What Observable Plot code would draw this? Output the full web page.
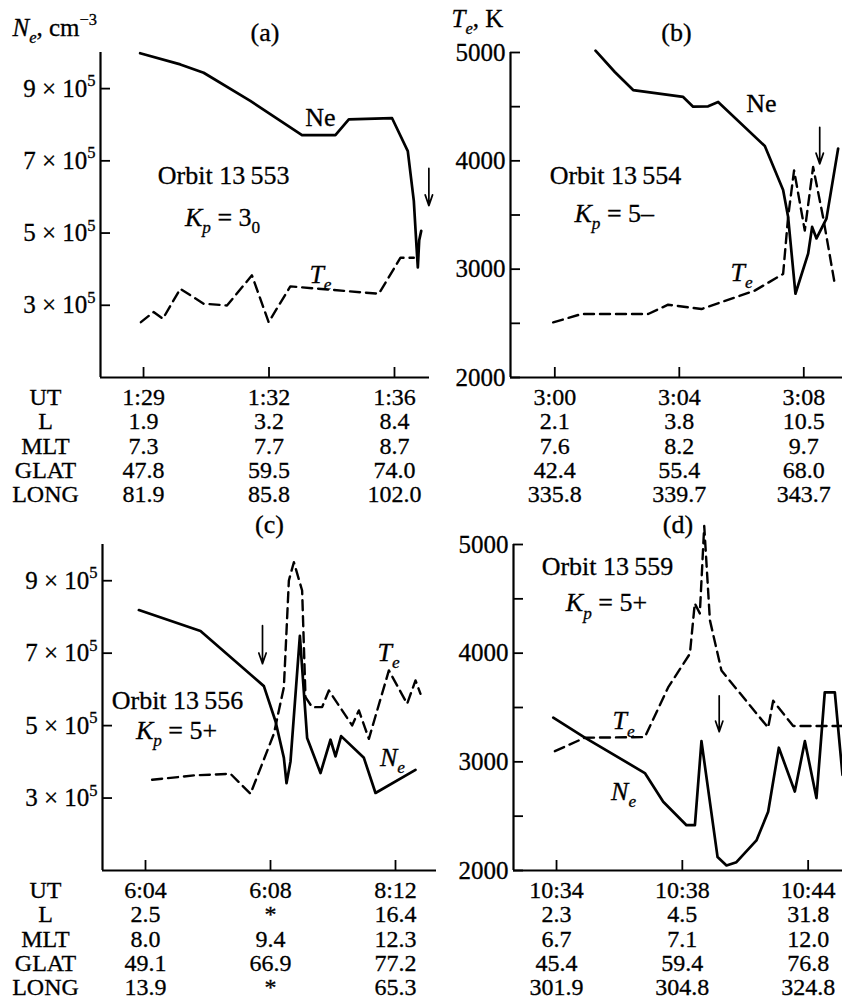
<!DOCTYPE html>
<html><head><meta charset="utf-8">
<script src="https://cdn.jsdelivr.net/npm/d3@7"></script>
<script src="https://cdn.jsdelivr.net/npm/@observablehq/plot@0.6"></script>
<style>
body{margin:0;background:#fff;}
#wrap{position:relative;width:842px;height:999px;overflow:hidden;font-family:"Liberation Serif","Times New Roman",serif;}
#wrap svg{position:absolute;}
#wrap svg text{stroke:#000;stroke-width:0.3px;}
</style></head><body><div id="wrap"></div>
<script>
// ---------- shared ----------
const rowLabels = ["UT", "L", "MLT", "GLAT", "LONG"];
const tickPos = [0, 1, 2];
const neTicks = [3, 5, 7, 9];                       // units of 10^5 cm^-3
const teTicks = [2000, 2500, 3000, 3500, 4000, 4500, 5000];

// ---------- panel (a) orbit 13553 ----------
const posA_Ne = [-0.027, 0.293, 0.479, 0.851, 1.263, 1.529, 1.636, 1.981, 2.106, 2.154, 2.176, 2.186, 2.197, 2.213];
const neA     = [9.98, 9.67, 9.44, 8.66, 7.71, 7.71, 8.15, 8.18, 7.27, 5.89, 4.6, 4.05, 4.8, 5.06];
const posA_Te = [-0.021, 0.080, 0.154, 0.293, 0.479, 0.665, 0.864, 0.997, 1.170, 1.875, 2.048, 2.154];
const teA     = [2511, 2604, 2542, 2819, 2681, 2665, 2943, 2511, 2841, 2773, 3106, 3106];
const utA = ["1:29", "1:32", "1:36"], lA = ["1.9", "3.2", "8.4"], mltA = ["7.3", "7.7", "8.7"],
      glatA = ["47.8", "59.5", "74.0"], longA = ["81.9", "85.8", "102.0"];
const notesA = [{x: 1.41, y: 8.2, t: "Ne"}, {x: 1.41, y: 3.85, t: "~T_e~"},
                {x: 0.638, y: 6.6, t: "Orbit 13\u2009553"}, {x: 0.63, y: 5.43, t: "~K_p~ = 3_0"}];
const arrowA = [{x: 2.274, y1: 6.79, y2: 5.76}];

// ---------- panel (b) orbit 13554 ----------
const posB_Ne = [0.327, 0.482, 0.629, 1.031, 1.111, 1.232, 1.312, 1.687, 1.834, 1.874, 1.933, 2.035, 2.067, 2.102, 2.182, 2.276];
const neB     = [10.05, 9.46, 8.96, 8.77, 8.50, 8.51, 8.63, 7.41, 6.19, 5.45, 3.32, 4.43, 5.17, 4.85, 5.40, 7.34];
const posB_Te = [-0.013, 0.214, 0.428, 0.750, 0.910, 1.178, 1.606, 1.834, 1.874, 1.922, 2.008, 2.075, 2.155, 2.249];
const teB     = [2509, 2586, 2586, 2586, 2672, 2632, 2802, 2956, 3480, 3912, 3357, 3943, 3480, 2863];
const utB = ["3:00", "3:04", "3:08"], lB = ["2.1", "3.8", "10.5"], mltB = ["7.6", "8.2", "9.7"],
      glatB = ["42.4", "55.4", "68.0"], longB = ["335.8", "339.7", "343.7"];
const notesB = [{x: 1.66, y: 4529, t: "Ne"}, {x: 1.50, y: 2968, t: "~T_e~"},
                {x: 0.487, y: 3864, t: "Orbit 13\u2009554"}, {x: 0.478, y: 3513, t: "~K_p~ = 5\u2013"}];
const arrowB = [{x: 2.128, y1: 4310, y2: 3972}];

// ---------- panel (c) orbit 13556 ----------
const posC_Ne = [-0.053, 0.44, 0.947, 1.04, 1.107, 1.128, 1.16, 1.235, 1.293, 1.4, 1.48, 1.52, 1.565, 1.747, 1.84, 2.16];
const neC     = [8.19, 7.61, 6.09, 5.12, 4.11, 3.41, 4.01, 7.48, 4.66, 3.69, 4.61, 4.15, 4.71, 4.11, 3.14, 3.78];
const posC_Te = [0.053, 0.387, 0.68, 0.84, 1.027, 1.107, 1.147, 1.187, 1.253, 1.28, 1.333, 1.413, 1.467, 1.653, 1.707, 1.787, 1.947, 2.093, 2.16, 2.2];
const teC     = [2835, 2875, 2890, 2706, 3258, 3687, 4669, 4837, 4577, 3595, 3503, 3503, 3657, 3335, 3473, 3212, 3841, 3534, 3749, 3626];
const utC = ["6:04", "6:08", "8:12"], lC = ["2.5", "*", "16.4"], mltC = ["8.0", "9.4", "12.3"],
      glatC = ["49.1", "66.9", "77.2"], longC = ["13.9", "*", "65.3"];
const notesC = [{x: 1.944, y: 7.02, t: "~T_e~"}, {x: 1.976, y: 4.12, t: "~N_e~"},
                {x: 0.256, y: 5.69, t: "Orbit 13\u2009556"}, {x: 0.248, y: 4.86, t: "~K_p~ = 5+"}];
const arrowC = [{x: 0.936, y1: 7.76, y2: 6.71}];

// ---------- panel (d) orbit 13559 ----------
const posD_Ne = [-0.026, 0.225, 0.702, 0.848, 1.033, 1.1, 1.152, 1.28, 1.351, 1.43, 1.589, 1.682, 1.767, 1.894, 1.974, 2.066, 2.132, 2.212, 2.273];
const neD     = [5.22, 4.67, 3.69, 2.90, 2.25, 2.25, 4.57, 1.37, 1.14, 1.23, 1.83, 2.62, 4.39, 3.18, 4.57, 3.00, 5.92, 5.92, 3.64];
const posD_Te = [-0.013, 0.225, 0.702, 0.887, 1.06, 1.099, 1.139, 1.174, 1.219, 1.311, 1.682, 1.722, 1.881, 2.273];
const teD     = [3098, 3222, 3228, 3685, 3995, 4459, 4366, 5170, 4304, 3840, 3314, 3562, 3330, 3330];
const utD = ["10:34", "10:38", "10:44"], lD = ["2.3", "4.5", "31.8"], mltD = ["6.7", "7.1", "12.0"],
      glatD = ["45.4", "59.4", "76.8"], longD = ["301.9", "304.8", "324.8"];
const notesD = [{x: 0.405, y: 4796, t: "Orbit 13\u2009559"}, {x: 0.397, y: 4462, t: "~K_p~ = 5+"},
                {x: 0.533, y: 3376, t: "~T_e~"}, {x: 0.533, y: 2726, t: "~N_e~"}];
const arrowD = [{x: 1.293, y1: 3608, y2: 3277}];

// Ne (10^5 cm^-3) and Te (K) share the vertical extent of each panel
const teToNe = d3.scaleLinear([2000, 5000], [1, 10]);
const neToTe = d3.scaleLinear([1, 10], [2000, 5000]);

// ---------- rich text: ~ toggles italic, _x subscript, ^{..} superscript ----------
function richify(svg) {
  svg.querySelectorAll("text, tspan").forEach(el => {
    if (el.children.length) return;
    const s = el.textContent;
    if (!/[_^~]/.test(s)) return;
    const fs = parseFloat(getComputedStyle(el).fontSize) || 25;
    const runs = [];
    let italic = false, i = 0;
    while (i < s.length) {
      const c = s[i];
      if (c === "~") { italic = !italic; i++; continue; }
      if (c === "_" || c === "^") {
        let t; i++;
        if (s[i] === "{") { const j = s.indexOf("}", i); t = s.slice(i + 1, j); i = j + 1; }
        else { t = s[i]; i++; }
        runs.push({t, italic, shift: c === "_" ? 1 : -1});
        continue;
      }
      const last = runs[runs.length - 1];
      if (last && last.shift === 0 && last.italic === italic) last.t += c;
      else runs.push({t: c, italic, shift: 0});
      i++;
    }
    el.textContent = "";
    let cur = 0;
    for (const r of runs) {
      const ts = document.createElementNS("http://www.w3.org/2000/svg", "tspan");
      const target = r.shift === 1 ? 0.28 * fs : r.shift === -1 ? -0.42 * fs : 0;
      if (target !== cur) ts.setAttribute("dy", (target - cur).toFixed(2));
      cur = target;
      if (r.italic) ts.setAttribute("font-style", "italic");
      if (r.shift) ts.setAttribute("font-size", (0.66 * fs).toFixed(1));
      ts.textContent = r.t;
      el.appendChild(ts);
    }
  });
}

const wrap = document.getElementById("wrap");
const rowDy = i => 20 + 24.3 * i;

function panel(o) {
  const neData = o.nePos.map((p, i) => ({x: p, y: o.neY(o.ne[i])}));
  const teData = o.tePos.map((p, i) => ({x: p, y: o.teY(o.te[i])}));
  const rows = o.table;
  const marks = [
    Plot.ruleX([o.xDomain[0]], {strokeWidth: 2.2}),
    Plot.ruleY([o.yDomain[0]], {strokeWidth: 2.2}),
    Plot.axisY({ticks: o.yTicks, tickFormat: o.yFmt, tickSize: -10, tickPadding: 15, fontSize: 25, strokeWidth: 1.8, label: null}),
    Plot.axisX({ticks: tickPos, tickSize: -10, tickFormat: () => "", strokeWidth: 1.8, label: null}),
    Plot.line(teData, {x: "x", y: "y", stroke: "black", strokeWidth: 2.4, strokeDasharray: "10,6"}),
    Plot.line(neData, {x: "x", y: "y", stroke: "black", strokeWidth: 2.7}),
    Plot.text(o.notes, {x: "x", y: "y", text: "t", fontSize: 26}),
    Plot.arrow(o.arrow, {x1: "x", x2: "x", y1: "y1", y2: "y2", stroke: "black", strokeWidth: 1.7, headLength: 10, headAngle: 38}),
    Plot.text([o.letter], {text: d => d, frameAnchor: "top", lineAnchor: "middle", dy: -20, fontSize: 26}),
    ...rows.map((r, i) => Plot.text(r, {x: (d, j) => tickPos[j], text: d => d, frameAnchor: "bottom", lineAnchor: "middle", dy: rowDy(i), fontSize: 24}))
  ];
  if (o.rowLabels) rows.forEach((r, i) => marks.push(
    Plot.text([rowLabels[i]], {text: d => d, frameAnchor: "bottom-left", lineAnchor: "middle", textAnchor: "middle", dx: o.labelDx, dy: rowDy(i), fontSize: 24})));
  if (o.header) marks.push(Plot.text([o.header], {text: d => d, frameAnchor: "top-left", lineAnchor: "middle", textAnchor: "start", dx: o.headerDx, dy: o.headerDy, fontSize: 25}));
  const svg = Plot.plot({
    width: o.width, height: o.height,
    marginLeft: o.mL, marginRight: o.mR, marginTop: o.mT, marginBottom: o.mB,
    x: {domain: o.xDomain}, y: {domain: o.yDomain},
    style: {fontFamily: "'Liberation Serif', 'Times New Roman', serif", fontSize: "25px", background: "transparent", overflow: "visible", color: "black"},
    marks
  });
  svg.style.left = o.left + "px";
  svg.style.top = o.top + "px";
  wrap.appendChild(svg);
  richify(svg);
}

const neFmt = d => `${d} × 10^5`;
const teFmt = d => (d % 1000 ? "" : String(d));

panel({left: 0, top: 0, width: 440, height: 505, mL: 100, mR: 11, mT: 52, mB: 128,
  xDomain: [-0.343, 2.279], yDomain: [1, 10], yTicks: neTicks, yFmt: neFmt,
  nePos: posA_Ne, ne: neA, neY: v => v, tePos: posA_Te, te: teA, teY: teToNe,
  table: [utA, lA, mltA, glatA, longA], rowLabels: true, labelDx: -55,
  notes: notesA, arrow: arrowA, letter: "(a)", header: "~N_e~, cm^{\u22123}", headerDx: -88, headerDy: -25});

panel({left: 440, top: 0, width: 402, height: 505, mL: 70, mR: 0, mT: 52, mB: 128,
  xDomain: [-0.356, 2.311], yDomain: [2000, 5000], yTicks: teTicks, yFmt: teFmt,
  nePos: posB_Ne, ne: neB, neY: neToTe, tePos: posB_Te, te: teB, teY: v => v,
  table: [utB, lB, mltB, glatB, longB], rowLabels: false,
  notes: notesB, arrow: arrowB, letter: "(b)", header: "~T_e~, K", headerDx: -59, headerDy: -34});

panel({left: 0, top: 490, width: 450, height: 509, mL: 102, mR: 14, mT: 54, mB: 129,
  xDomain: [-0.344, 2.328], yDomain: [1, 10], yTicks: neTicks, yFmt: neFmt,
  nePos: posC_Ne, ne: neC, neY: v => v, tePos: posC_Te, te: teC, teY: teToNe,
  table: [utC, lC, mltC, glatC, longC], rowLabels: true, labelDx: -57,
  notes: notesC, arrow: arrowC, letter: "(c)"});

panel({left: 450, top: 490, width: 392, height: 509, mL: 63, mR: 0, mT: 54, mB: 129,
  xDomain: [-0.342, 2.273], yDomain: [2000, 5000], yTicks: teTicks, yFmt: teFmt,
  nePos: posD_Ne, ne: neD, neY: neToTe, tePos: posD_Te, te: teD, teY: v => v,
  table: [utD, lD, mltD, glatD, longD], rowLabels: false,
  notes: notesD, arrow: arrowD, letter: "(d)"});
</script></body></html>
